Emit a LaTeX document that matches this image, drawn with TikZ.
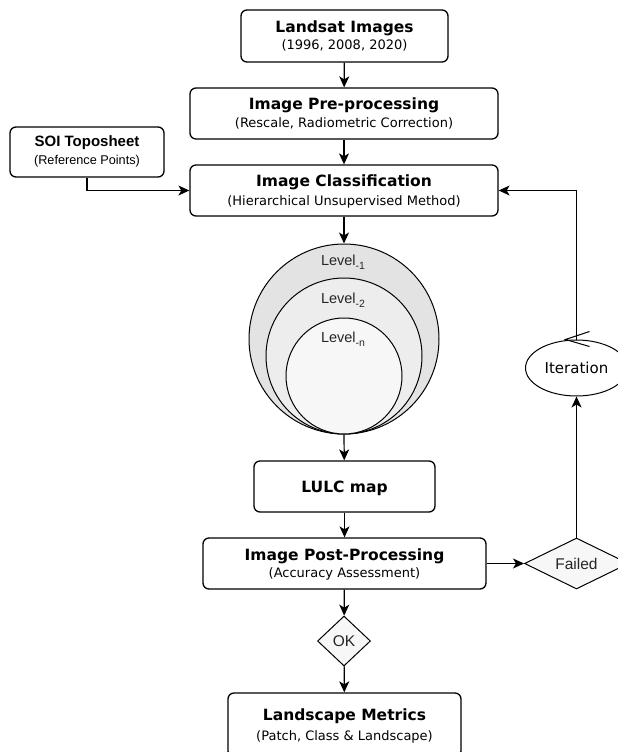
\documentclass[tikz,border=0pt]{standalone}
\usepackage{fontspec}
\setmainfont{DejaVu Sans}
\newfontfamily\arialf{Liberation Sans}
\usetikzlibrary{shapes.geometric,arrows.meta}
\tikzset{
  box/.style={draw, line width=1.3pt, rounded corners=6pt, fill=white, inner sep=0pt},
  ttl/.style={anchor=base, inner sep=0pt, font=\fontsize{15.5}{18}\selectfont\bfseries},
  sub/.style={anchor=base, inner sep=0pt, font=\fontsize{13}{15}\selectfont},
  attl/.style={anchor=base, inner sep=0pt, font=\arialf\fontsize{15}{18}\selectfont\bfseries},
  asub/.style={anchor=base, inner sep=0pt, font=\arialf\fontsize{12.7}{15}\selectfont},
  lvl/.style={anchor=base, inner sep=0pt, font=\arialf\fontsize{14.5}{16}\selectfont, text=black!85},
  circ/.style={draw, line width=1pt, circle, inner sep=0pt},
  dia/.style={draw, line width=1pt, diamond, inner sep=0pt, fill=black!3},
  arr/.style={line width=1.2pt, -{Stealth[length=11pt,width=10pt,inset=3pt]}},
  ln/.style={line width=1.2pt}
}
\newcommand\lsub[1]{\raisebox{-4pt}{\fontsize{10.5}{12}\selectfont #1}}
\begin{document}
\begin{tikzpicture}[x=1pt,y=-1pt]
\useasboundingbox (0,0) rectangle (618,752);
% boxes
\node[box, minimum width=207pt, minimum height=52pt] (landsat) at (344.5,36) {};
\node[ttl] (landsatT) at ([yshift=-23pt]landsat.north) {Landsat Images};
\node[sub] (landsatS) at ([yshift=-40pt]landsat.north) {(1996, 2008, 2020)};

\node[box, minimum width=308pt, minimum height=51pt] (pre) at (344,113.5) {};
\node[ttl] (preT) at ([yshift=-22pt]pre.north) {Image Pre-processing};
\node[sub] (preS) at ([yshift=-40pt]pre.north) {(Rescale, Radiometric Correction)};

\node[box, minimum width=308pt, minimum height=51pt] (cls) at (344,190.5) {};
\node[ttl] (clsT) at ([yshift=-22pt]cls.north) {Image Classification};
\node[sub] (clsS) at ([yshift=-41pt]cls.north) {(Hierarchical Unsupervised Method)};

\node[box, minimum width=154pt, minimum height=50pt] (soi) at (87,152) {};
\node[attl] (soiT) at ([yshift=-20pt]soi.north) {SOI Toposheet};
\node[asub] (soiS) at ([yshift=-38pt]soi.north) {(Reference Points)};

% circles
\node[circ, fill=black!11, minimum size=190pt] (c1) at (344,339) {};
\node[circ, fill=black!7, minimum size=156pt] (c2) at (344,356) {};
\node[circ, fill=black!3, minimum size=116pt] (c3) at (344,376) {};
\node[lvl] (l1) at (343,265) {Level\lsub{-1}};
\node[lvl] (l2) at (343,303) {Level\lsub{-2}};
\node[lvl] (l3) at (343,342) {Level\lsub{-n}};

\node[box, minimum width=181pt, minimum height=51pt] (lulc) at (344.5,486.5) {};
\node[ttl] (lulcT) at ([yshift=-5.5pt]lulc.center) {LULC map};

\node[box, minimum width=283pt, minimum height=51pt] (post) at (344.5,563.5) {};
\node[ttl] (postT) at ([yshift=-23pt]post.north) {Image Post-Processing};
\node[sub] (postS) at ([yshift=-40pt]post.north) {(Accuracy Assessment)};

\node[dia, minimum width=104pt, minimum height=51pt] (failed) at (576.5,563.5) {};
\node[lvl, font=\arialf\fontsize{15.5}{17}\selectfont] (failedT) at ([yshift=-5.5pt]failed.center) {Failed};

\node[draw, line width=1pt, ellipse, inner sep=0pt, fill=white, minimum width=102pt, minimum height=56pt] (iter) at (576.5,368) {};
\node[anchor=base, inner sep=0pt, font=\fontsize{15}{17}\selectfont] (iterT) at ([yshift=-5.5pt]iter.center) {Iteration};

\node[dia, minimum width=53pt, minimum height=50pt] (ok) at (344,641) {};
\node[lvl, font=\arialf\fontsize{15.5}{17}\selectfont] (okT) at ([yshift=-5.5pt]ok.center) {OK};

\node[box, minimum width=233pt, minimum height=64pt] (land) at (344.5,725) {};
\node[ttl] (landT) at ([yshift=-28pt]land.north) {Landscape Metrics};
\node[sub] (landS) at ([yshift=-48pt]land.north) {(Patch, Class \& Landscape)};

% connectors
\draw[arr] (landsat) -- (pre);
\draw[arr] (pre) -- (cls);
\draw[arr] (soi.south) |- (cls.west);
\draw[arr] (cls) -- (c1.north);
\draw[arr] (c1.south) -- (lulc);
\draw[arr] (lulc) -- (post);
\draw[arr] (post) -- (ok);
\draw[arr] (ok) -- (land);
\draw[arr] (post.east) -- (failed.west);
\draw[arr] (failed.north) -- (iter.south);
\draw[arr] (iter.north) |- (cls.east);
\coordinate (vtip) at ([xshift=-11pt]iter.north);
\draw[line width=1pt] ([xshift=13pt,yshift=8pt]iter.north) -- (vtip) -- ([xshift=13pt,yshift=-7pt]iter.north);
\end{tikzpicture}
\end{document}
